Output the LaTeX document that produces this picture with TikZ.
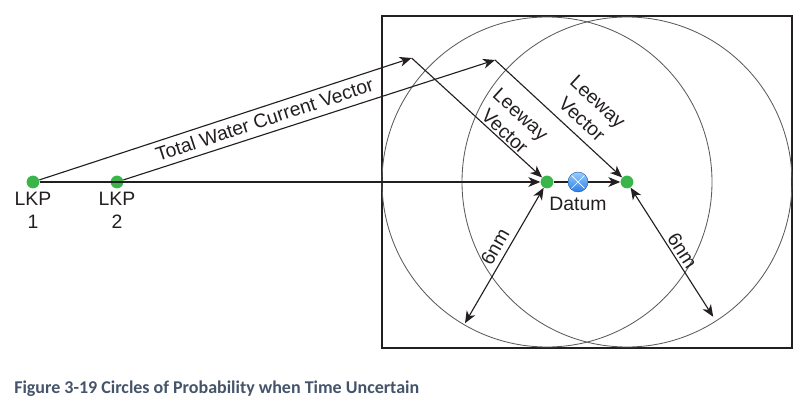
\documentclass[tikz,border=0pt]{standalone}
\usepackage{fontspec}
\setmainfont{Liberation Sans}
\newfontfamily\capfont{Carlito}
\usetikzlibrary{arrows.meta}
\definecolor{myGreen}{RGB}{57, 181, 74}
\definecolor{myBlue}{RGB}{45, 125, 230}
\definecolor{myLightBlue}{RGB}{150, 205, 255}
\definecolor{myDark}{RGB}{35, 31, 32}
\definecolor{myGray}{RGB}{90, 90, 90}
\definecolor{myCaption}{RGB}{68, 84, 106}

\begin{document}
\begin{tikzpicture}[
		>={Stealth[length=8.5pt, width=7pt, inset=2.5pt]},
		dot/.style={circle, fill=myGreen, minimum size=0.32cm, inner sep=0pt},
		txt/.style={font=\fontsize{13.8}{16.6}\selectfont, text=myDark, inner sep=1pt},
		ring/.style={myGray, line width=0.6pt},
		vec/.style={myDark, line width=0.8pt},
	]
			\useasboundingbox (0,0) rectangle (20.175,10.05);
			\draw (0.825,5.5) node[dot] (lkpA) {};
			\draw (2.925,5.5) node[dot] (lkpB) {};
			\draw (13.675,5.5) node[dot] (dA) {};
			\draw (15.675,5.5) node[dot] (dB) {};
			\draw (lkpA.south) node[txt, below=1pt, align=center] (lkpAtxt) {LKP\\1};
			\draw (lkpB.south) node[txt, below=1pt, align=center] (lkpBtxt) {LKP\\2};
			\coordinate (tA) at (10.29,8.6);
			\coordinate (tB) at (12.375,8.55);
			\coordinate (eA) at (11.625,1.97);
			\coordinate (eB) at (17.83,2.13);
	
			\draw[myDark, line width=0.8pt] (9.55,1.35) rectangle (19.8,9.65);
			\draw[ring] (dA.center) circle (4.125);
			\draw[ring] (dB.center) circle (4.125);
	
			\path[->, vec]
			(lkpA) edge node[txt, sloped, below=2.5pt, pos=0.594] (waterLbl) {Total Water Current Vector} (tA)
			(lkpB) edge (tB)
			(tA) edge node[txt, sloped, above, align=center, pos=0.67] (leewayAtxt) {Leeway\\Vector} (dA)
			(tB) edge node[txt, sloped, above=5pt, align=center, pos=0.6] (leewayBtxt) {Leeway\\Vector} (dB)
			(lkpA) edge (dA)
			(dA) edge (dB)
			;
			\path[<->, vec]
			(eA) edge node[txt, sloped, above=2.5pt, pos=0.517] (sixA) {6nm} (dA)
			(dB) edge node[txt, sloped, above=0.5pt, pos=0.53] (sixB) {6nm} (eB)
			;
	
			\draw (14.45,5.5) node[circle, minimum size=0.5cm, inner sep=0pt, top color=myLightBlue, bottom color=myBlue, draw=myBlue!70!black, line width=0.3pt,
				path picture={\draw[white, line width=0.5pt]
					([shift={(-0.16,-0.16)}]path picture bounding box.center) -- ([shift={(0.16,0.16)}]path picture bounding box.center)
					([shift={(-0.16,0.16)}]path picture bounding box.center) -- ([shift={(0.16,-0.16)}]path picture bounding box.center);}] (datum) {};
			\draw (datum.south) node[txt, below=2pt] (datumtxt) {Datum};
			\draw (0.35,0.2) node[anchor=base west, inner sep=0pt, text=myCaption, font=\capfont\bfseries\fontsize{12.8}{15}\selectfont] (caption) {Figure 3-19 Circles of Probability when Time Uncertain};
		\end{tikzpicture}
\end{document}
